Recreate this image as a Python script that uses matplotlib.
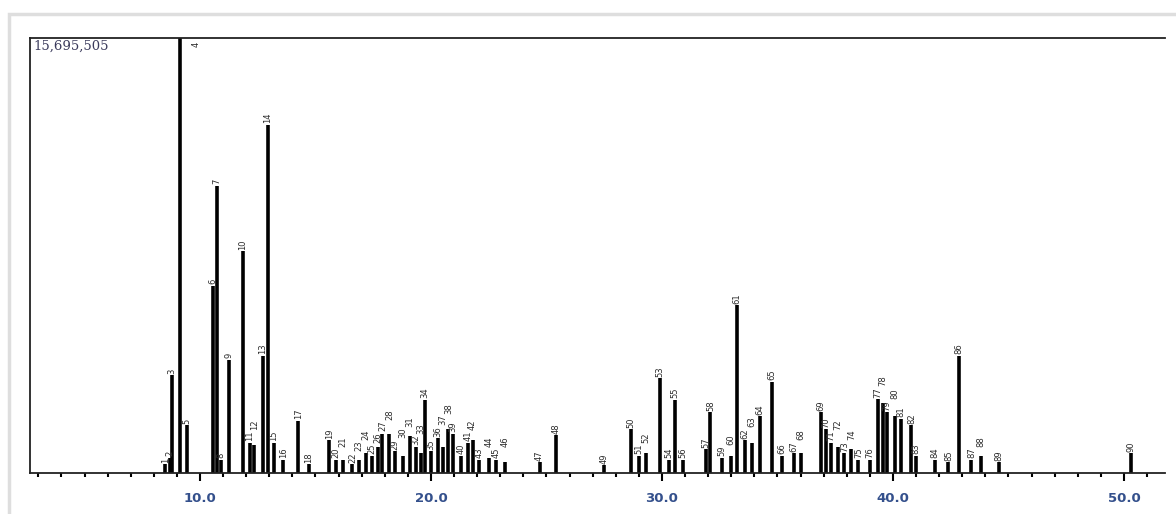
import matplotlib
matplotlib.use("Agg")
import matplotlib.pyplot as plt
from matplotlib.patches import Rectangle

# ---- data ----
max_intensity = 15695505
peak_labels = [str(i) for i in range(1, 91)]
retention_times = [
    8.50, 8.70, 8.80, 9.13, 9.45, 10.55, 10.74, 10.90, 11.25, 11.86,
    12.15, 12.35, 12.73, 12.94, 13.20, 13.60, 14.25, 14.70, 15.60, 15.90,
    16.20, 16.60, 16.90, 17.20, 17.45, 17.70, 17.90, 18.20, 18.45, 18.80,
    19.10, 19.35, 19.55, 19.74, 20.00, 20.30, 20.50, 20.75, 20.95, 21.30,
    21.60, 21.80, 22.10, 22.50, 22.80, 23.20, 24.70, 25.40, 27.50, 28.65,
    29.00, 29.30, 29.90, 30.30, 30.55, 30.90, 31.90, 32.10, 32.60, 33.00,
    33.25, 33.60, 33.90, 34.25, 34.75, 35.20, 35.70, 36.00, 36.90, 37.10,
    37.30, 37.60, 37.90, 38.20, 38.50, 39.00, 39.35, 39.55, 39.75, 40.10,
    40.35, 40.80, 41.00, 41.80, 42.40, 42.85, 43.40, 43.80, 44.60, 50.30,
]
relative_heights = [
    0.020, 0.035, 0.225, 1.000, 0.110, 0.430, 0.660, 0.030, 0.260, 0.510,
    0.070, 0.065, 0.270, 0.800, 0.070, 0.030, 0.120, 0.020, 0.075, 0.030,
    0.030, 0.020, 0.030, 0.045, 0.040, 0.060, 0.090, 0.090, 0.050, 0.040,
    0.085, 0.060, 0.045, 0.168, 0.050, 0.080, 0.060, 0.100, 0.090, 0.040,
    0.070, 0.075, 0.030, 0.035, 0.030, 0.025, 0.025, 0.087, 0.018, 0.100,
    0.040, 0.045, 0.218, 0.030, 0.168, 0.030, 0.055, 0.140, 0.035, 0.040,
    0.386, 0.075, 0.070, 0.130, 0.210, 0.040, 0.045, 0.045, 0.140, 0.100,
    0.070, 0.060, 0.045, 0.055, 0.030, 0.030, 0.170, 0.160, 0.140, 0.130,
    0.125, 0.110, 0.040, 0.030, 0.025, 0.270, 0.030, 0.040, 0.025, 0.045,
]
x_ticks_major = [10.0, 20.0, 30.0, 40.0, 50.0]
x_tick_labels = ["10.0", "20.0", "30.0", "40.0", "50.0"]

heights = [h * max_intensity for h in relative_heights]

fig = plt.figure(figsize=(11.76, 5.14), dpi=100)
fig.patch.set_facecolor("white")
# soft frame around the whole picture
fig.patches.append(Rectangle((0.008, -0.02), 1.1, 0.992, transform=fig.transFigure,
                             fill=False, edgecolor="#dedede", linewidth=2.5))

ax = fig.add_axes([0.0255, 0.0798, 0.965, 0.8463])
ax.vlines(retention_times, 0, heights, color="black", linewidth=2.6)

ax.set_xlim(2.64, 51.77)
ax.set_ylim(0, max_intensity)

# label placement: stack labels of crowded neighbours so they do not collide
fig.canvas.draw()
placed = []  # (x_px, bottom_px, top_px)
for rt, h, lab in zip(retention_times, heights, peak_labels):
    x_px, y_px = ax.transData.transform((rt, h))
    if lab == "4":
        ax.annotate(lab, (rt, h), xytext=(12, -3), textcoords="offset points",
                    rotation=90, ha="center", va="top", fontsize=6,
                    color="#2b2b2b", annotation_clip=False)
        continue
    bottom = y_px + 1.5
    tall = len(lab) * 5.0 + 1.0
    moved = True
    while moved:
        moved = False
        for px, pb, pt in placed:
            if abs(px - x_px) < 9.5 and bottom < pt and bottom + tall > pb:
                bottom = pt + 0.5
                moved = True
    placed.append((x_px, bottom, bottom + tall))
    off_pt = (bottom - y_px) * 72.0 / fig.dpi
    ax.annotate(lab, (rt, h), xytext=(0, off_pt), textcoords="offset points",
                rotation=90, ha="center", va="bottom", fontsize=6,
                color="#2b2b2b")

ax.set_xticks(x_ticks_major)
ax.set_xticklabels(x_tick_labels, color="#34508c", fontsize=9.5, fontweight="bold")
ax.set_xticks([float(v) for v in range(3, 52)], minor=True)
ax.tick_params(axis="x", which="major", direction="out", length=6, width=1.5, pad=8)
ax.tick_params(axis="x", which="minor", direction="out", length=3, width=1.5)
ax.set_yticks([])
for side in ["left", "top", "bottom"]:
    ax.spines[side].set_linewidth(1.3)
    ax.spines[side].set_color("#222222")
ax.spines["right"].set_visible(False)

ax.text(0.003, 0.995, f"{max_intensity:,}", transform=ax.transAxes,
        ha="left", va="top", fontsize=9.5, color="#3b3b5c", family="DejaVu Serif")

fig.savefig("out.png", dpi=100)
